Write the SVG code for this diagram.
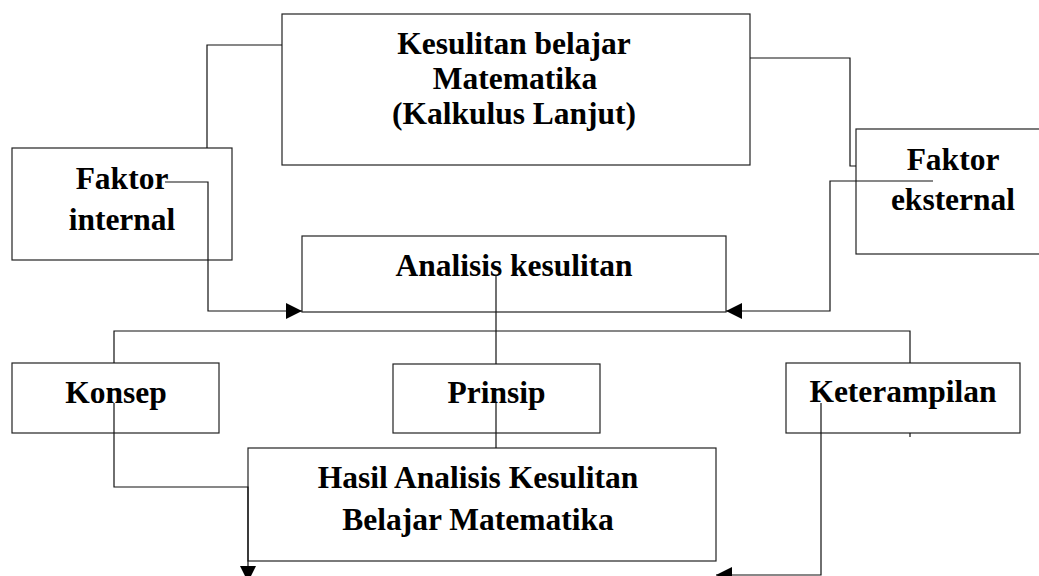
<svg xmlns="http://www.w3.org/2000/svg" width="1039" height="576" viewBox="0 0 1039 576">
<style>
.box{fill:#fff;stroke:#222;stroke-width:1.2}
.t{font-weight:700;font-size:31.5px;fill:#000;text-anchor:middle}
.c{fill:none;stroke:#111;stroke-width:1.2}
</style>
<defs>
<marker id="ah" markerUnits="userSpaceOnUse" markerWidth="18" markerHeight="16" refX="16" refY="8" orient="auto">
<path d="M0,0 L16,8 L0,16 z" fill="#000"/>
</marker>
</defs>
<rect width="1039" height="576" fill="#fff"/>
<g font-family="Liberation Serif, Times New Roman, serif">
<g id="node-top">
<rect class="box" x="282" y="14" width="468" height="151"/>
<text class="t" x="514" y="54">Kesulitan belajar</text>
<text class="t" x="515" y="89">Matematika</text>
<text class="t" x="514" y="124">(Kalkulus Lanjut)</text>
</g>
<g id="node-internal">
<rect class="box" x="12" y="148" width="220" height="112"/>
<text class="t" x="122" y="189">Faktor</text>
<text class="t" x="122" y="230">internal</text>
</g>
<g id="node-eksternal">
<rect class="box" x="856" y="129" width="200" height="125"/>
<text class="t" x="953" y="170">Faktor</text>
<text class="t" x="953" y="210">eksternal</text>
</g>
<g id="node-analisis">
<rect class="box" x="302" y="236" width="424" height="76"/>
<text class="t" x="514" y="276">Analisis kesulitan</text>
</g>
<g id="node-konsep">
<rect class="box" x="12" y="363" width="207" height="70"/>
<text class="t" x="116" y="403">Konsep</text>
</g>
<g id="node-prinsip">
<rect class="box" x="393" y="364" width="207" height="69"/>
<text class="t" x="496.5" y="403">Prinsip</text>
</g>
<g id="node-keterampilan">
<rect class="box" x="786" y="363" width="234" height="70"/>
<text class="t" x="903" y="402">Keterampilan</text>
</g>
<g id="node-hasil">
<rect class="box" x="248" y="448" width="468" height="113"/>
<text class="t" x="478" y="488">Hasil Analisis Kesulitan</text>
<text class="t" x="478" y="530">Belajar Matematika</text>
</g>
</g>
<g id="connectors">
<path class="c" d="M282,45 H207 V148"/>
<path class="c" d="M165,182 H208 V311 H302" marker-end="url(#ah)"/>
<path class="c" d="M750,58 H850 V166 H856"/>
<path class="c" d="M933,181 H830 V311 H726" marker-end="url(#ah)"/>
<path class="c" d="M496,275 V364"/>
<path class="c" d="M114,363 V331 H910 V363"/>
<path class="c" d="M114,403 V487 H248 V582" marker-end="url(#ah)"/>
<path class="c" d="M496,403 V448"/>
<path class="c" d="M821,403 V575 H716" marker-end="url(#ah)"/>
<path class="c" d="M910,433 V437"/>
</g>
</svg>
